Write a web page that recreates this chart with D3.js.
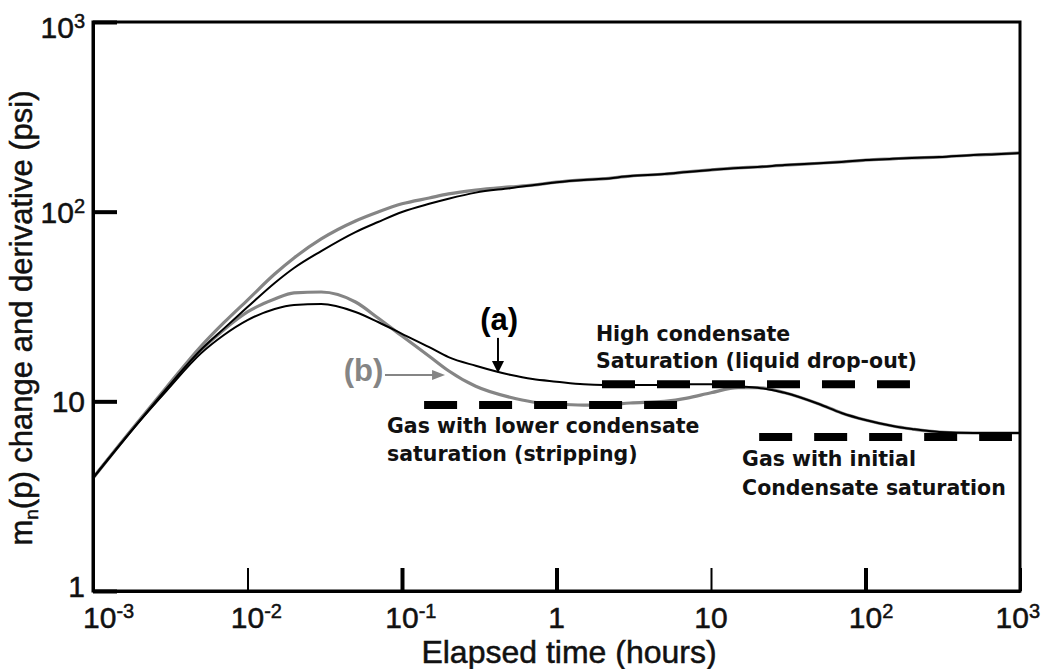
<!DOCTYPE html>
<html><head><meta charset="utf-8">
<script src="https://cdn.jsdelivr.net/npm/d3@7"></script>
<style>
html,body{margin:0;padding:0;background:#fff;}
svg{display:block;}
</style></head>
<body>
<svg id="chart" width="1042" height="669"></svg>
<script>
// ---------------- data ----------------
const timeHours = [0.001, 0.002, 0.003, 0.005, 0.007, 0.01, 0.015, 0.02, 0.03, 0.05, 0.07,
  0.1, 0.15, 0.2, 0.3, 0.5, 0.7, 1, 1.5, 2, 3, 5, 7, 10, 15, 20, 30, 50, 70,
  100, 150, 200, 300, 500, 700, 1000];
// (a) high condensate saturation - black
const pressureChangeA = [3.94, 7.88, 11.7, 18.7, 24.1, 31.4, 42.1, 50.5, 62.0, 78.1, 88.2,
  99.6, 110, 117, 126, 133, 138, 143, 147, 149, 154, 158, 162, 166, 170, 172, 176, 180, 183,
  187, 190, 192, 194, 199, 201, 204];
const derivativeA = [3.94, 7.85, 11.4, 17.9, 22.3, 26.8, 30.7, 32.2, 32.6, 29.6, 26.2,
  22.7, 19.3, 17.1, 15.4, 13.8, 13.1, 12.7, 12.3, 12.2, 12.2, 12.2, 12.3, 12.3, 12.0, 11.8, 11.1, 9.68, 8.68,
  7.97, 7.41, 7.15, 6.89, 6.81, 6.81, 6.81];
// (b) lower condensate saturation (stripping) - gray
const pressureChangeB = [3.94, 7.97, 11.9, 19.5, 25.9, 34.2, 46.9, 57.0, 71.8, 89.3, 99.6,
  110, 118, 124, 130, 135, 138, 143, 147, 149, 154, 158, 162, 166, 170, 172, 176, 180, 183,
  187, 190, 192, 194, 199, 201, 204];
const derivativeB = [3.94, 7.92, 11.6, 18.6, 23.8, 29.6, 34.6, 37.3, 37.7, 33.4, 27.5,
  22.1, 17.3, 14.5, 12.0, 10.5, 9.92, 9.68, 9.56, 9.56, 9.80, 10.0, 10.4, 11.1, 11.8, 11.8, 11.1, 9.68, 8.68,
  7.97, 7.41, 7.15, 6.89, 6.81, 6.81, 6.81];

// stabilisation levels (dashed)
const regimeStart = [1.97, 0.139, 20.5];
const regimeEnd = [194, 6.03, 887];
const regimeLevel = [12.3, 9.56, 6.49];

const xTickValues = [1e-3, 1e-2, 1e-1, 1, 10, 100, 1000];
const xTickBase = ["10", "10", "10", "1", "10", "10", "10"];
const xTickExp = ["-3", "-2", "-1", "", "", "2", "3"];
const yTickValues = [1, 10, 100, 1000];
const yTickBase = ["1", "10", "10", "10"];
const yTickExp = ["", "", "2", "3"];

const annotationTexts = ["High condensate", "Saturation (liquid drop-out)",
  "Gas with lower condensate", "saturation (stripping)",
  "Gas with initial", "Condensate saturation"];

// ---------------- layout ----------------
const plot = {left: 93, right: 1020, top: 22, bottom: 591};
const annotationAnchors = [[1.8, 20.8], [1.8, 15.0], [0.080, 6.81], [0.080, 4.85], [15.9, 4.56], [15.9, 3.21]];
const xTickWeight = [3, 2, 4, 4, 2, 4, 3];
const GRAY = "#858585";
const labelFont = "'DejaVu Sans', Verdana, sans-serif";
const axisFont = "'Liberation Sans', Arial, sans-serif";

const svg = d3.select("#chart");
const x = d3.scaleLog().domain([1e-3, 1e3]).range([plot.left, plot.right]);
const y = d3.scaleLog().domain([1, 1e3]).range([plot.bottom, plot.top]);

// ---------------- curves ----------------
const line = d3.line().x(d => x(d[0])).y(d => y(d[1])).curve(d3.curveMonotoneX);
const series = [
  {values: pressureChangeB, color: GRAY, width: 3.2},
  {values: derivativeB, color: GRAY, width: 3.2},
  {values: pressureChangeA, color: "#000", width: 2},
  {values: derivativeA, color: "#000", width: 2}
];
series.forEach(s => {
  svg.append("path")
    .datum(timeHours.map((t, i) => [t, s.values[i]]))
    .attr("d", line)
    .attr("fill", "none")
    .attr("stroke", s.color)
    .attr("stroke-width", s.width)
    .attr("stroke-linejoin", "round");
});

// dashed stabilisation lines
regimeLevel.forEach((v, i) => {
  svg.append("line")
    .attr("x1", x(regimeStart[i])).attr("x2", x(regimeEnd[i]))
    .attr("y1", y(v)).attr("y2", y(v))
    .attr("stroke", "#000").attr("stroke-width", 8)
    .attr("stroke-dasharray", "33 22");
});

// ---------------- axes ----------------
const xAxis = d3.axisBottom(x).tickValues(xTickValues).tickFormat(() => "")
  .tickSizeInner(-23).tickSizeOuter(0);
const gx = svg.append("g").attr("transform", `translate(0,${plot.bottom})`).call(xAxis);
gx.select(".domain").attr("stroke-width", 3);
gx.selectAll(".tick line").attr("stroke-width", (d, i) => xTickWeight[i]);
gx.selectAll(".tick text").remove();

const yAxis = d3.axisLeft(y).tickValues(yTickValues).tickFormat(() => "")
  .tickSizeInner(-24).tickSizeOuter(0);
const gy = svg.append("g").attr("transform", `translate(${plot.left},0)`).call(yAxis);
gy.select(".domain").attr("stroke-width", 3);
gy.selectAll(".tick line").attr("stroke-width", 4);
gy.selectAll(".tick text").remove();

// frame
svg.append("rect")
  .attr("x", plot.left).attr("y", plot.top)
  .attr("width", plot.right - plot.left).attr("height", plot.bottom - plot.top)
  .attr("fill", "none").attr("stroke", "#000").attr("stroke-width", 3);

function axisText(sel, size) {
  return sel.attr("font-family", axisFont).attr("font-size", size)
    .attr("fill", "#111").attr("stroke", "#111").attr("stroke-width", 0.5);
}

// tick labels
xTickValues.forEach((v, i) => {
  const t = axisText(svg.append("text").attr("y", 628), 30);
  const base = t.append("tspan").text(xTickBase[i]);
  if (xTickExp[i]) t.append("tspan").attr("font-size", 20).attr("dy", -10).text(xTickExp[i]);
  const bw = base.node().getComputedTextLength();
  const tw = t.node().getComputedTextLength();
  let left = x(v) - bw / 2;
  left = Math.max(83, Math.min(left, 1040 - tw));
  base.attr("x", left);
});
yTickValues.forEach((v, i) => {
  const t = axisText(svg.append("text").attr("x", 85)
    .attr("y", Math.max(38, Math.min(y(v) + 11, 597)))
    .attr("text-anchor", "end"), 30);
  t.append("tspan").text(yTickBase[i]);
  if (yTickExp[i]) t.append("tspan").attr("font-size", 20).attr("dy", -10).text(yTickExp[i]);
});

// axis titles
axisText(svg.append("text").attr("x", 569).attr("y", 663).attr("text-anchor", "middle"), 32)
  .text("Elapsed time (hours)");
const yt = axisText(svg.append("text").attr("transform", "translate(32,318) rotate(-90)")
  .attr("text-anchor", "middle"), 31);
yt.append("tspan").text("m");
yt.append("tspan").attr("font-size", 19).attr("dy", 6).text("n");
yt.append("tspan").attr("dy", -6).text("(p) change and derivative (psi)");

// ---------------- annotations ----------------
annotationTexts.forEach((s, i) => {
  svg.append("text")
    .attr("x", x(annotationAnchors[i][0])).attr("y", y(annotationAnchors[i][1]))
    .attr("font-family", labelFont).attr("font-weight", "bold")
    .attr("font-size", 20.5).attr("fill", "#111").text(s);
});

// (a) label + down arrow to curve (a)
svg.append("text").attr("x", x(0.425)).attr("y", y(23.8)).attr("text-anchor", "middle")
  .attr("font-family", axisFont).attr("font-weight", "bold").attr("font-size", 31)
  .attr("fill", "#000").text("(a)");
{
  const ax = x(0.418), y0 = y(21.6), tip = y(14.1);
  svg.append("line").attr("x1", ax).attr("x2", ax).attr("y1", y0).attr("y2", tip - 10)
    .attr("stroke", "#000").attr("stroke-width", 2);
  svg.append("path").attr("d", `M${ax - 6},${tip - 12}L${ax + 6},${tip - 12}L${ax},${tip}Z`).attr("fill", "#000");
}
// (b) label + right arrow to curve (b)
svg.append("text").attr("x", x(0.0564)).attr("y", y(12.8)).attr("text-anchor", "middle")
  .attr("font-family", axisFont).attr("font-weight", "bold").attr("font-size", 31)
  .attr("fill", GRAY).text("(b)");
{
  const by = y(13.77), x0 = x(0.0776), tip = x(0.190);
  svg.append("line").attr("x1", x0).attr("x2", tip - 10).attr("y1", by).attr("y2", by)
    .attr("stroke", GRAY).attr("stroke-width", 2);
  svg.append("path").attr("d", `M${tip - 13},${by - 5}L${tip - 13},${by + 5}L${tip},${by}Z`).attr("fill", GRAY);
}
</script>
</body></html>
